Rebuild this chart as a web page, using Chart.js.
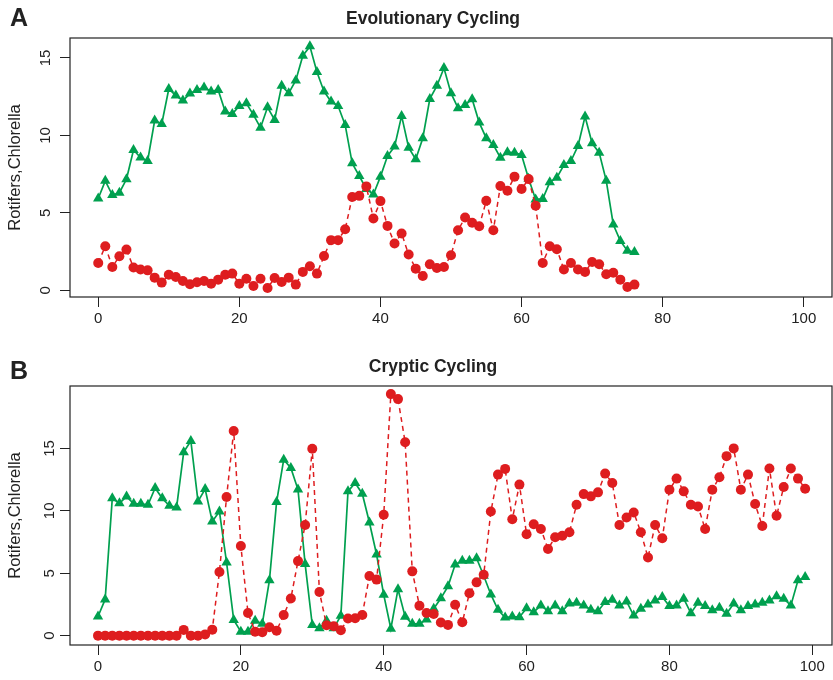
<!DOCTYPE html>
<html>
<head>
<meta charset="utf-8">
<title>Evolutionary and Cryptic Cycling</title>
<script src="https://cdn.jsdelivr.net/npm/chart.js@4.4.1/dist/chart.umd.min.js"></script>
<style>
  html, body { margin: 0; padding: 0; background: #fff; }
  canvas { display: block; }
</style>
</head>
<body>
<canvas id="chartA" width="833" height="340"></canvas>
<canvas id="chartB" width="833" height="340"></canvas>
<script>
// values, one per day (x = day index)
const chlorellaA = [5.93, 7.07, 6.15, 6.3, 7.17, 9.06, 8.57, 8.35, 10.96, 10.74,
  13.0, 12.58, 12.25, 12.7, 12.94, 13.1, 12.84, 12.94, 11.54, 11.39,
  11.9, 12.08, 11.33, 10.5, 11.82, 11.0, 13.2, 12.73, 13.55, 15.15,
  15.75, 14.09, 12.84, 12.19, 11.9, 10.68, 8.2, 7.38, 6.55, 6.19,
  7.34, 8.67, 9.28, 11.26, 9.21, 8.46, 9.82, 12.36, 13.2, 14.35,
  12.73, 11.76, 11.97, 12.34, 10.83, 9.82, 9.39, 8.56, 8.91, 8.89,
  8.74, 7.2, 5.87, 5.9, 6.97, 7.27, 8.09, 8.35, 9.32, 11.22,
  9.49, 8.89, 7.08, 4.25, 3.19, 2.55, 2.48];
const rotifersA = [1.77, 2.85, 1.51, 2.2, 2.63, 1.47, 1.34, 1.29, 0.82, 0.5,
  1.01, 0.86, 0.6, 0.39, 0.52, 0.6, 0.43, 0.69, 1.01, 1.08,
  0.43, 0.75, 0.28, 0.75, 0.15, 0.8, 0.54, 0.82, 0.37, 1.19,
  1.55, 1.08, 2.22, 3.24, 3.24, 3.94, 6.02, 6.1, 6.71, 4.64,
  5.76, 4.16, 3.02, 3.67, 2.31, 1.4, 0.93, 1.68, 1.44, 1.51,
  2.27, 3.88, 4.7, 4.36, 4.14, 5.78, 3.88, 6.73, 6.43, 7.34,
  6.54, 7.18, 5.46, 1.77, 2.85, 2.65, 1.34, 1.77, 1.34, 1.19,
  1.83, 1.68, 1.04, 1.14, 0.69, 0.22, 0.37];

const chlorellaB = [1.53, 2.9, 11.0, 10.6, 11.15, 10.56, 10.56, 10.48, 11.83, 11.0,
  10.4, 10.27, 14.7, 15.6, 10.75, 11.75, 9.14, 9.94, 5.86, 1.26,
  0.32, 0.32, 1.2, 0.95, 4.43, 10.7, 14.1, 13.44, 11.7, 5.73,
  0.85, 0.6, 1.2, 0.6, 1.6, 11.56, 12.23, 11.37, 9.06, 6.5,
  3.28, 0.55, 3.72, 1.52, 0.95, 0.95, 1.3, 2.15, 3.0, 3.95,
  5.7, 6.0, 6.0, 6.2, 4.8, 3.3, 2.07, 1.45, 1.53, 1.48,
  2.2, 1.88, 2.42, 1.96, 2.42, 1.96, 2.58, 2.63, 2.42, 2.07,
  1.96, 2.69, 2.88, 2.42, 2.74, 1.61, 2.15, 2.5, 2.82, 3.09,
  2.37, 2.42, 2.96, 1.8, 2.63, 2.37, 2.04, 2.23, 1.75, 2.58,
  2.04, 2.37, 2.5, 2.63, 2.82, 3.15, 2.96, 2.42, 4.43, 4.7];
const rotifersB = [0, 0, 0, 0, 0, 0, 0, 0, 0, 0,
  0, 0, 0.46, 0, 0, 0.1, 0.48, 5.1, 11.1, 16.4,
  7.18, 1.82, 0.32, 0.27, 0.67, 0.4, 1.65, 2.98, 5.97, 8.87,
  14.97, 3.5, 0.83, 0.76, 0.43, 1.37, 1.39, 1.66, 4.78, 4.49,
  9.68, 19.35, 18.95, 15.5, 5.15, 2.4, 1.82, 1.74, 1.05, 0.86,
  2.48, 1.07, 3.4, 4.27, 4.88, 9.94, 12.9, 13.36, 9.33, 12.1,
  8.12, 8.93, 8.55, 6.94, 7.88, 8.0, 8.28, 10.48, 11.34, 11.16,
  11.48, 12.98, 12.23, 8.87, 9.46, 9.87, 8.28, 6.26, 8.87, 7.8,
  11.69, 12.58, 11.56, 10.48, 10.35, 8.55, 11.69, 12.69, 14.38, 15.0,
  11.69, 12.9, 10.54, 8.79, 13.39, 9.6, 11.91, 13.39, 12.58, 11.77];

const xTicks = [0, 20, 40, 60, 80, 100];
const yTicksA = [0, 5, 10, 15];
const yTicksB = [0, 5, 10, 15];

const FONT = '"Liberation Sans", Arial, Helvetica, sans-serif';
const INK = '#222';
const GREEN = '#00a04f';
const RED = '#de1d1f';

Chart.defaults.font.family = FONT;

const panelDecor = {
  id: 'panelDecor',
  afterDraw(chart, args, o) {
    const { ctx, chartArea: a, scales } = chart;
    ctx.save();
    ctx.strokeStyle = INK;
    ctx.lineWidth = 1.2;
    ctx.strokeRect(a.left, a.top, a.right - a.left, a.bottom - a.top);

    ctx.fillStyle = INK;
    ctx.textAlign = 'center';
    ctx.textBaseline = 'middle';

    ctx.font = '15px ' + FONT;
    o.yTicks.forEach(v => {
      ctx.save();
      ctx.translate(o.tickX, scales.y.getPixelForValue(v));
      ctx.rotate(-Math.PI / 2);
      ctx.fillText(String(v), 0, 0);
      ctx.restore();
    });

    ctx.font = '16.5px ' + FONT;
    ctx.save();
    ctx.translate(15.5, (a.top + a.bottom) / 2);
    ctx.rotate(-Math.PI / 2);
    ctx.fillText('Rotifers,Chlorella', 0, 0);
    ctx.restore();

    ctx.font = 'bold 17.5px ' + FONT;
    ctx.fillText(o.title, 433, o.titleY);

    ctx.font = 'bold 25px ' + FONT;
    ctx.fillText(o.letter, 19, o.letterY);
    ctx.restore();
  }
};

function makePanel(id, rotifers, chlorella, p) {
  new Chart(document.getElementById(id), {
    type: 'line',
    data: {
      datasets: [{
        label: 'Rotifers',
        data: rotifers.map((v, i) => ({ x: i, y: v })),
        borderColor: RED,
        borderWidth: 1.5,
        borderDash: [5, 4],
        pointStyle: 'circle',
        pointRadius: 5,
        pointBackgroundColor: RED,
        pointBorderWidth: 0
      }, {
        label: 'Chlorella',
        data: chlorella.map((v, i) => ({ x: i, y: v })),
        borderColor: GREEN,
        borderWidth: 1.7,
        pointStyle: 'triangle',
        pointRadius: 6,
        pointBackgroundColor: GREEN,
        pointBorderWidth: 0
      }]
    },
    options: {
      responsive: false,
      animation: false,
      devicePixelRatio: 1,
      layout: { autoPadding: false, padding: { top: p.padTop, right: 1, bottom: 0, left: 0 } },
      plugins: {
        legend: { display: false },
        tooltip: { enabled: false },
        panelDecor: p
      },
      scales: {
        x: {
          type: 'linear',
          min: p.xMin,
          max: p.xMax,
          border: { display: false },
          grid: { drawOnChartArea: false, drawTicks: true, tickLength: 10, color: INK },
          ticks: { autoSkip: false, maxRotation: 0, padding: 3, color: INK, font: { size: 15 } },
          afterBuildTicks: s => { s.ticks = xTicks.map(v => ({ value: v })); },
          afterFit: s => { s.height = p.xHeight; }
        },
        y: {
          type: 'linear',
          min: p.yMin,
          max: p.yMax,
          border: { display: false },
          grid: { drawOnChartArea: false, drawTicks: true, tickLength: 10, color: INK },
          ticks: { display: false },
          afterBuildTicks: s => { s.ticks = p.yTicks.map(v => ({ value: v })); },
          afterFit: s => { s.width = 70; }
        }
      }
    },
    plugins: [panelDecor]
  });
}

makePanel('chartA', rotifersA, chlorellaA, {
  xMin: -4, xMax: 104, yMin: -0.43, yMax: 16.29,
  padTop: 38, xHeight: 43, yTicks: yTicksA, tickX: 46,
  title: 'Evolutionary Cycling', titleY: 19, letter: 'A', letterY: 19
});

makePanel('chartB', rotifersB, chlorellaB, {
  xMin: -3.92, xMax: 102.76, yMin: -0.75, yMax: 20.0,
  padTop: 46, xHeight: 35, yTicks: yTicksB, tickX: 50,
  title: 'Cryptic Cycling', titleY: 27, letter: 'B', letterY: 32
});
</script>
</body>
</html>
